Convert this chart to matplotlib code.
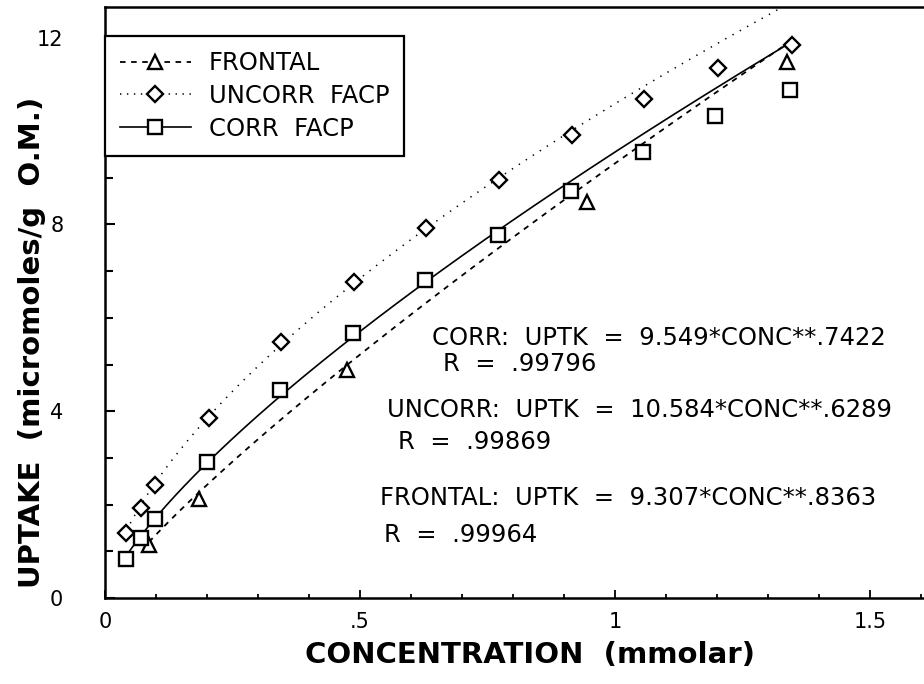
import numpy as np
import matplotlib
matplotlib.use("Agg")
import matplotlib.pyplot as plt
from matplotlib.ticker import MultipleLocator, FixedLocator, FixedFormatter

plt.rcParams['font.family'] = ['DejaVu Sans']
plt.rcParams['lines.scale_dashes'] = False

# Measured uptake data
conc_frontal = [0.086, 0.184, 0.474, 0.945, 1.337]
uptk_frontal = [1.13, 2.12, 4.88, 8.48, 11.48]

conc_uncorr = [0.042, 0.070, 0.099, 0.204, 0.346, 0.489, 0.630, 0.772, 0.916, 1.057, 1.201, 1.347]
uptk_uncorr = [1.39, 1.93, 2.42, 3.85, 5.48, 6.77, 7.92, 8.95, 9.91, 10.69, 11.35, 11.84]

conc_corr = [0.042, 0.070, 0.099, 0.200, 0.344, 0.487, 0.628, 0.771, 0.913, 1.055, 1.197, 1.344]
uptk_corr = [0.83, 1.28, 1.69, 2.91, 4.45, 5.67, 6.81, 7.77, 8.72, 9.55, 10.32, 10.88]

# Power-law fits UPTK = a * CONC**b
fit_a = {"CORR": 9.549, "UNCORR": 10.584, "FRONTAL": 9.307}
fit_b = {"CORR": 0.7422, "UNCORR": 0.6289, "FRONTAL": 0.8363}
fit_r = {"CORR": ".99796", "UNCORR": ".99869", "FRONTAL": ".99964"}

x_ticks = [0, 0.5, 1.0, 1.5]
x_tick_labels = ["0", ".5", "1", "1.5"]
y_ticks = [0, 4, 8, 12]
y_tick_labels = ["0", "4", "8", "12"]

W, H = 924, 684
fig = plt.figure(figsize=(W / 100, H / 100), dpi=100)
ax = fig.add_axes([105 / W, 1 - 598 / H, (W - 105) / W, (598 - 7) / H])
ax.set_xlim(0, (W - 105) / 510)
ax.set_ylim(0, (598 - 7) / 46.7)


def fit_curve(key, x0, x1):
    xs = np.linspace(x0, x1, 300)
    return xs, fit_a[key] * xs ** fit_b[key]


mk = dict(mfc='white', mec='black', mew=1.7, color='black')

xs, ys = fit_curve("FRONTAL", min(conc_frontal), max(conc_frontal))
ax.plot(xs, ys, color='black', lw=1.3, ls=(0, (4, 4)), zorder=2)
xs, ys = fit_curve("UNCORR", min(conc_uncorr), 1.45)
ax.plot(xs, ys, color='black', lw=1.1, ls=(0, (1, 5)), zorder=2)
xs, ys = fit_curve("CORR", min(conc_corr), max(conc_corr))
ax.plot(xs, ys, color='black', lw=1.2, ls='-', zorder=2)

ax.plot(conc_frontal, uptk_frontal, ls='none', marker='^', ms=10, zorder=3, **mk)
ax.plot(conc_uncorr, uptk_uncorr, ls='none', marker='D', ms=8, zorder=3, **mk)
ax.plot(conc_corr, uptk_corr, ls='none', marker='s', ms=9.5, zorder=3, **mk)

# Legend entries combine the fit line style and the data marker
h1, = ax.plot([], [], color='black', lw=1.3, ls=(0, (4, 4)), marker='^', ms=10,
              mfc='white', mec='black', mew=1.7)
h2, = ax.plot([], [], color='black', lw=1.1, ls=(0, (1, 4)), marker='D', ms=8,
              mfc='white', mec='black', mew=1.7)
h3, = ax.plot([], [], color='black', lw=1.2, ls='-', marker='s', ms=9.5,
              mfc='white', mec='black', mew=1.7)
leg = ax.legend([h1, h2, h3], ["FRONTAL", "UNCORR  FACP", "CORR  FACP"],
                loc='upper left', bbox_to_anchor=(0, (598 - 36) / 591),
                borderaxespad=0, fancybox=False, frameon=True, fontsize=17.5,
                handlelength=2.9, handletextpad=0.75, borderpad=0.62,
                labelspacing=0.36, numpoints=1)
leg.get_frame().set_edgecolor('black')
leg.get_frame().set_linewidth(1.6)
leg.get_frame().set_alpha(1)

# Fit annotations
ann_kw = dict(fontsize=17.5, ha='left', va='center', color='black')
ax.text(0.641, 5.57, "CORR:  UPTK  =  9.549*CONC**.7422", **ann_kw)
ax.text(0.663, 5.02, "R  =  " + fit_r["CORR"], **ann_kw)
ax.text(0.553, 4.03, "UNCORR:  UPTK  =  10.584*CONC**.6289", **ann_kw)
ax.text(0.575, 3.34, "R  =  " + fit_r["UNCORR"], **ann_kw)
ax.text(0.539, 2.14, "FRONTAL:  UPTK  =  9.307*CONC**.8363", **ann_kw)
ax.text(0.547, 1.35, "R  =  " + fit_r["FRONTAL"], **ann_kw)

# Axes styling
for side in ('left', 'bottom', 'top'):
    ax.spines[side].set_linewidth(1.8)
ax.spines['right'].set_visible(False)

ax.xaxis.set_major_locator(FixedLocator(x_ticks))
ax.xaxis.set_major_formatter(FixedFormatter(x_tick_labels))
ax.xaxis.set_minor_locator(MultipleLocator(0.1))
ax.yaxis.set_major_locator(FixedLocator(y_ticks))
ax.yaxis.set_major_formatter(FixedFormatter(y_tick_labels))
ax.yaxis.set_minor_locator(MultipleLocator(1))

ax.tick_params(axis='x', which='major', direction='in', length=6, width=1.3,
               labelsize=15, pad=10, top=False)
ax.tick_params(axis='x', which='minor', direction='in', length=3, width=1.3, top=False)
ax.tick_params(axis='y', which='major', direction='in', length=7, width=1.5,
               labelsize=15, pad=30, right=False)
ax.tick_params(axis='y', which='minor', direction='in', length=6, width=1.5, right=False)

ax.set_xlabel("CONCENTRATION  (mmolar)", fontsize=21, fontweight='bold')
ax.set_ylabel("UPTAKE  (micromoles/g  O.M.)", fontsize=21, fontweight='bold')
ax.xaxis.set_label_coords((530 - 105) / 819, -0.072)
ax.yaxis.set_label_coords((46 - 105) / 819, (598 - 342) / 591)

fig.savefig("out.png", dpi=100)
